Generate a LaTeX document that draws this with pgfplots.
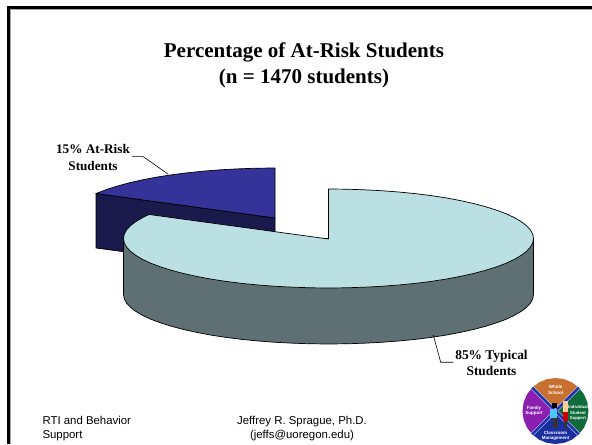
\documentclass[border=0pt]{standalone}
\usepackage{pgfplots}
\pgfplotsset{compat=1.18}
\usepackage{fontspec}
\setmainfont{Liberation Serif}
\newfontfamily\arial{Liberation Sans}
\definecolor{blueT}{HTML}{333399}
\definecolor{blueS}{HTML}{1A1A4D}
\definecolor{tealT}{HTML}{BBE0E3}
\definecolor{tealS}{HTML}{5E7072}
\definecolor{lgO}{HTML}{C8702F}
\definecolor{lgG}{HTML}{0F6B3A}
\definecolor{lgB}{HTML}{1A2FA0}
\definecolor{lgP}{HTML}{8A1FB0}
\begin{document}
\begin{tikzpicture}
\begin{axis}[
  scale only axis, width=592pt, height=444pt,
  xmin=0, xmax=592, ymin=0, ymax=444, y dir=reverse,
  axis lines=none, axis background/.style={fill=white},
  clip mode=individual]
% frame
\addplot[gray!70, line width=1pt, forget plot] coordinates {(10,444) (10,9.5) (592,9.5)};
\addplot[black, line width=3pt, forget plot] coordinates {(8,444) (8,7.5) (592,7.5)};
% blue slice side
\addplot[fill=blueS, draw=black, line width=0.7pt, forget plot] coordinates {(96,193.5) (275,218) (275,272) (96,248)} -- cycle;
% blue slice top
\addplot[fill=blueT, draw=black, line width=0.7pt, line join=round, forget plot] coordinates {
(275,218) (275,168) (257.1,168.2) (239.4,168.8) (221.9,169.7) (204.9,171.0) (188.4,172.7) (172.5,174.7) (157.4,177.0) (143.2,179.7) (130.0,182.6) (118.0,185.9) (107.1,189.3) (97.5,193.0) (96,193.5)} -- cycle;
% teal side
\addplot[fill=tealS, draw=black, line width=0.7pt, line join=round, forget plot] coordinates {
(533.5,238.5) (533.5,294.5) (532.7,298.8) (530.4,303.1) (526.5,307.3) (521.1,311.4) (514.3,315.4) (506.0,319.3) (496.4,322.9) (485.5,326.3) (473.5,329.5) (460.3,332.4) (446.1,335.1) (431.0,337.4) (415.1,339.4) (398.6,341.0) (381.6,342.3) (364.1,343.2) (346.4,343.8) (328.5,344.0) (310.6,343.8) (292.9,343.2) (275.4,342.3) (258.4,341.0) (241.9,339.4) (226.0,337.4) (210.9,335.1) (196.7,332.4) (183.5,329.5) (171.5,326.3) (160.6,322.9) (151.0,319.3) (142.7,315.4) (135.9,311.4) (130.5,307.3) (126.6,303.1) (124.3,298.8) (123.5,294.5) (123.5,238.5)} -- cycle;
% teal top
\addplot[fill=tealT, draw=black, line width=0.7pt, line join=round, forget plot] coordinates {
(328.5,239) (328.5,189.0) (346.4,189.2) (364.1,189.8) (381.6,190.7) (398.6,192.0) (415.1,193.6) (431.0,195.6) (446.1,197.9) (460.3,200.6) (473.5,203.5) (485.5,206.7) (496.4,210.1) (506.0,213.7) (514.3,217.6) (521.1,221.6) (526.5,225.7) (530.4,229.9) (532.7,234.2) (533.5,238.5) (532.7,242.8) (530.4,247.1) (526.5,251.3) (521.1,255.4) (514.3,259.4) (506.0,263.3) (496.4,266.9) (485.5,270.3) (473.5,273.5) (460.3,276.4) (446.1,279.1) (431.0,281.4) (415.1,283.4) (398.6,285.0) (381.6,286.3) (364.1,287.2) (346.4,287.8) (328.5,288.0) (310.6,287.8) (292.9,287.2) (275.4,286.3) (258.4,285.0) (241.9,283.4) (226.0,281.4) (210.9,279.1) (196.7,276.4) (183.5,273.5) (171.5,270.3) (160.6,266.9) (151.0,263.3) (142.7,259.4) (135.9,255.4) (130.5,251.3) (126.6,247.1) (124.3,242.8) (123.5,238.5) (124.3,234.2) (126.6,229.9) (130.5,225.7) (135.9,221.6) (142.7,217.6) (149,214.5)} -- cycle;
% leaders
\addplot[black, line width=0.6pt, forget plot] coordinates {(168.3,174.3) (143.3,156.7) (132,156.7)};
\addplot[black, line width=0.6pt, forget plot] coordinates {(433.3,335) (440.7,362.3) (453.3,362.3)};
% logo
\addplot[fill=lgO, draw=none, forget plot] coordinates {(555.5,411) (532.2,387.7) (539,382.4) (547,379.1) (555.5,378) (564,379.1) (572,382.4) (578.8,387.7)} -- cycle;
\addplot[fill=lgG, draw=none, forget plot] coordinates {(555.5,411) (578.8,387.7) (584.1,394.5) (587.4,402.5) (588.5,411) (587.4,419.5) (584.1,427.5) (578.8,434.3)} -- cycle;
\addplot[fill=lgB, draw=none, forget plot] coordinates {(555.5,411) (578.8,434.3) (572,439.6) (564,442.9) (555.5,444) (547,442.9) (539,439.6) (532.2,434.3)} -- cycle;
\addplot[fill=lgP, draw=none, forget plot] coordinates {(555.5,411) (532.2,434.3) (526.9,427.5) (523.6,419.5) (522.5,411) (523.6,402.5) (526.9,394.5) (532.2,387.7)} -- cycle;
\addplot[white!70!blue, line width=3.6pt, forget plot] coordinates {(532.2,387.7) (578.8,434.3)};
\addplot[white!70!blue, line width=3.6pt, forget plot] coordinates {(578.8,387.7) (532.2,434.3)};
\addplot[lgB, line width=2.2pt, forget plot] coordinates {(532.2,387.7) (578.8,434.3)};
\addplot[lgB, line width=2.2pt, forget plot] coordinates {(578.8,387.7) (532.2,434.3)};
% figures in the logo
\addplot[black!80, line width=5pt, forget plot] coordinates {(555,418) (555,428)};
\addplot[cyan!70!white, line width=7pt, forget plot] coordinates {(553,409) (553,418)};
\addplot[black, line width=5pt, forget plot] coordinates {(554,403) (554,408.5)};
\addplot[black!80, line width=3pt, forget plot] coordinates {(565,421) (565,429)};
\addplot[red!80!black, line width=5pt, forget plot] coordinates {(565.5,412) (565.5,421)};
\addplot[orange!40!white, line width=5pt, forget plot] coordinates {(565,401) (565,412)};
% text
\node[align=center, font=\bfseries\fontsize{21}{25.6}\selectfont, anchor=center] at (axis cs:304,65.5) {Percentage of At-Risk Students\\(n = 1470 students)};
\node[align=center, font=\bfseries\fontsize{13.2}{16.6}\selectfont, anchor=center] at (axis cs:93,157.5) {15\% At-Risk\\Students};
\node[align=center, font=\bfseries\fontsize{13.4}{16}\selectfont, anchor=center] at (axis cs:491.5,363) {85\% Typical\\Students};
\node[align=left, font=\arial\fontsize{11.4}{14}\selectfont, anchor=west] at (axis cs:39,429) {RTI and Behavior\\Support};
\node[align=center, font=\arial\fontsize{11.4}{14}\selectfont, anchor=center] at (axis cs:302,429) {Jeffrey R. Sprague, Ph.D.\\(jeffs@uoregon.edu)};
\node[white, align=center, font=\arial\bfseries\fontsize{4.5}{5.5}\selectfont] at (axis cs:555.5,390) {Whole\\School};
\node[white, align=center, font=\arial\bfseries\fontsize{4.5}{5.5}\selectfont] at (axis cs:534,411) {Family\\Support};
\node[white, align=center, font=\arial\bfseries\fontsize{4.2}{5.2}\selectfont] at (axis cs:578,413) {Individual\\Student\\Support};
\node[white, align=center, font=\arial\bfseries\fontsize{4.5}{5.5}\selectfont] at (axis cs:555.5,436) {Classroom\\Management};
\end{axis}
\end{tikzpicture}
\end{document}
